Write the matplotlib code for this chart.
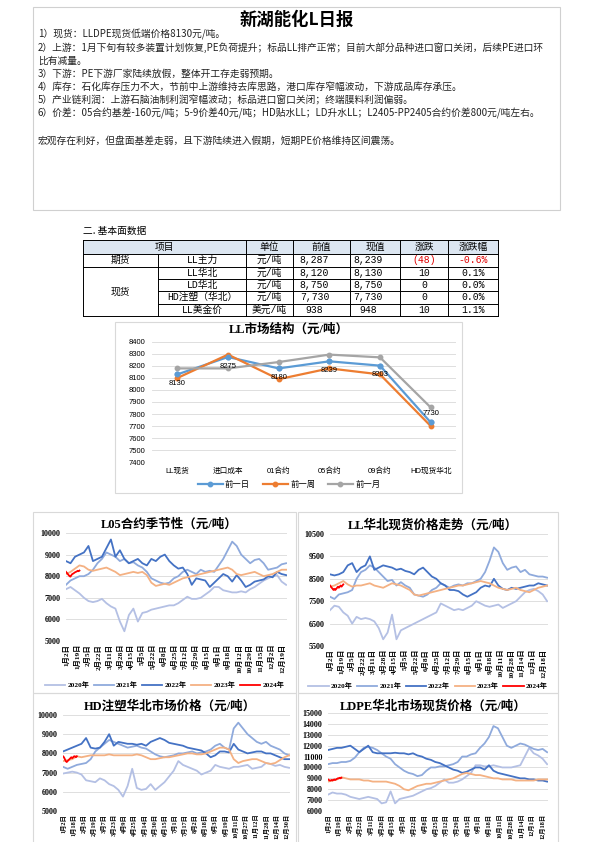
import numpy as np
import matplotlib.pyplot as plt
from matplotlib.patches import Rectangle

plt.rcParams['font.family'] = ['Noto Sans CJK SC', 'DejaVu Sans']
NUM = ['Liberation Serif', 'Noto Sans CJK SC']
SANS = ['Liberation Sans', 'Noto Sans CJK SC']

W, H = 595, 842

# ---------------- text of the report ----------------
report_title = '新湖能化L日报'
notes = [
    '1）现货：LLDPE现货低端价格8130元/吨。',
    '2）上游：1月下旬有较多装置计划恢复,PE负荷提升；标品LL排产正常；目前大部分品种进口窗口关闭，后续PE进口环',
    '比有减量。',
    '3）下游：PE下游厂家陆续放假，整体开工存走弱预期。',
    '4）库存：石化库存压力不大，节前中上游维持去库思路，港口库存窄幅波动，下游成品库存承压。',
    '5）产业链利润：上游石脑油制利润窄幅波动；标品进口窗口关闭；终端膜料利润偏弱。',
    '6）价差：05合约基差-160元/吨；5-9价差40元/吨；HD贴水LL；LD升水LL；L2405-PP2405合约价差800元/吨左右。',
]
macro = '宏观存在利好，但盘面基差走弱，且下游陆续进入假期，短期PE价格维持区间震荡。'
section = '二. 基本面数据'

# ---------------- table ----------------
tbl_header = ['项目', '单位', '前值', '现值', '涨跌', '涨跌幅']
tbl_group = ['期货', '现货']
tbl_items = ['LL主力', 'LL华北', 'LD华北', 'HD注塑（华北）', 'LL美金价']
tbl_units = ['元/吨', '元/吨', '元/吨', '元/吨', '美元/吨']
tbl_prev = ['8,287', '8,120', '8,750', '7,730', '938']
tbl_now = ['8,239', '8,130', '8,750', '7,730', '948']
tbl_chg = ['(48)', '10', '0', '0', '10']
tbl_pct = ['-0.6%', '0.1%', '0.0%', '0.0%', '1.1%']

# ---------------- LL market structure ----------------
mk_cats = ['LL现货', '进口成本', '01合约', '05合约', '09合约', 'HD现货华北']
mk_day = [8130, 8275, 8180, 8239, 8203, 7730]
mk_week = [8100, 8295, 8090, 8180, 8130, 7700]
mk_month = [8180, 8180, 8233, 8295, 8272, 7855]

# ---------------- seasonal charts ----------------
years = ['2020年', '2021年', '2022年', '2023年', '2024年']

dates_a = ['1月2日', '1月19日', '2月5日', '2月22日', '3月11日', '3月28日', '4月15日',
           '5月5日', '5月22日', '6月8日', '6月25日', '7月12日', '7月29日', '8月15日',
           '9月1日', '9月18日', '10月12日', '10月29日', '11月15日', '12月2日', '12月19日']
dates_b = ['1月2日', '1月19日', '2月5日', '2月22日', '3月11日', '3月28日', '4月15日',
           '5月5日', '5月22日', '6月8日', '6月25日', '7月12日', '7月29日', '8月15日',
           '9月1日', '9月18日', '10月11日', '10月28日', '11月14日', '12月1日', '12月18日']
dates_c = ['1月2日', '1月18日', '2月3日', '2月19日', '3月7日', '3月23日', '4月9日',
           '4月25日', '5月14日', '5月30日', '6月15日', '7月1日', '7月17日', '8月2日',
           '8月18日', '9月3日', '9月19日', '10月11日', '10月27日', '11月12日', '11月28日',
           '12月14日', '12月30日']

l05_2020 = [7400, 7500, 7350, 7200, 7000, 6850, 6800, 6850, 6950, 6750, 6600, 6500, 5900,
            5450, 6200, 6500, 5900, 6300, 6350, 6450, 6500, 6550, 6600, 6650, 6650, 6750,
            6900, 7050, 6950, 6950, 7000, 7150, 7300, 7500, 7500, 7350, 7300, 7250, 7250,
            7300, 7250, 7400, 7500, 7650, 7800, 7900, 8000, 8050, 7750, 7600]
l05_2021 = [7600, 7800, 7900, 8000, 8000, 8100, 8300, 8600, 8800, 9100, 9000, 8900, 8700,
            8800, 8600, 8650, 8500, 8400, 8200, 7900, 7800, 7700, 7650, 7700, 7900, 8000,
            8200, 8300, 8200, 8100, 8300, 8200, 8250, 8200, 8500, 8800, 9200, 9600, 9400,
            9000, 8800, 8600, 8750, 8800, 8600, 8300, 8350, 8400, 8550, 8600]
l05_2022 = [8700, 8600, 8900, 9000, 9100, 9400, 8700, 8800, 8900, 9300, 9700, 8900, 9200,
            8800, 8600, 8700, 8800, 8600, 8500, 8800, 8700, 8900, 9000, 8700, 8500, 8350,
            8400, 8100, 7600, 7900, 7850, 7800, 7500, 7700, 7900, 8100, 8000, 7750, 8050,
            7800, 7500, 7600, 7750, 7800, 7850, 8000, 7950, 8200, 8100, 8050]
l05_2023 = [8100, 8200, 8350, 8500, 8450, 8300, 8250, 8300, 8350, 8400, 8300, 8200, 8050,
            8100, 8150, 8200, 8150, 8200, 8050, 7700, 7550, 7600, 7650, 7600, 7700, 7800,
            7900, 7950, 8000, 8050, 8100, 8150, 8200, 8250, 8300, 8350, 8400, 8300, 8100,
            8050, 8100, 8150, 8200, 8100, 8000, 8050, 8100, 8200, 8300, 8300]
l05_2024 = [8200, 8150, 8100, 8050, 8000, 7980, 8050, 8100, 8120, 8150, 8180, 8200, 8220,
            8250, 8230, 8260]

llhb_2020 = [7100, 7300, 7250, 7000, 6850, 6500, 6800, 6700, 6750, 6700, 6600, 6300, 5800,
             6100, 6900, 5800, 6200, 6300, 6400, 6500, 6600, 6700, 6800, 6900, 7000, 7400,
             7300, 7200, 7100, 7150, 7100, 7200, 7300, 7500, 7400, 7300, 7250, 7300, 7350,
             7200, 7300, 7400, 7500, 7700, 7900, 8000, 8050, 7950, 7800, 7500]
llhb_2021 = [7700, 7600, 7800, 7850, 7900, 8000, 8500, 8800, 8900, 9100, 9000, 8800, 8600,
             8400, 8450, 8200, 8350, 8200, 8100, 7800, 7750, 7700, 7800, 8000, 8100, 8300,
             8200, 8100, 8200, 8250, 8200, 8300, 8300, 8400, 8500, 8800, 9300, 9900, 9700,
             9200, 8900, 9000, 9050, 8800, 8900, 8700, 8650, 8600, 8600, 8550]
llhb_2022 = [8700, 8650, 8700, 8800, 9100, 9200, 8800, 9000, 9100, 9500, 8900, 9000, 9100,
             9050, 9000, 8900, 8950, 8850, 8800, 8700, 8900, 9000, 8800, 8600, 8500, 8300,
             8200, 8000, 8000, 7950, 7800, 7700, 7800, 7900, 8100, 8200, 8150, 8500, 8200,
             8050, 8000, 8100, 8050, 8100, 8150, 8200, 8200, 8300, 8250, 8200]
llhb_2023 = [8150, 8200, 8300, 8400, 8250, 8150, 8200, 8200, 8250, 8300, 8200, 8150, 8100,
             8200, 8300, 8250, 8200, 8100, 8000, 7800, 7750, 7800, 7850, 7900, 7950, 8000,
             8050, 8100, 8150, 8200, 8200, 8250, 8300, 8350, 8400, 8350, 8300, 8200, 8100,
             8050, 8000, 8050, 8100, 8000, 7950, 7900, 8000, 8100, 8150, 8200]
llhb_2024 = [8200, 8150, 8100, 8050, 8000, 8050, 8000, 8050, 8100, 8150, 8100, 8150, 8200,
             8150, 8200, 8250]

hd_2020 = [6950, 7000, 7050, 7000, 6900, 6600, 6550, 6500, 6700, 6600, 6400, 6300, 6100,
           5750, 6300, 7200, 6200, 6100, 6150, 6400, 6100, 6300, 6500, 6800, 7100, 7600,
           7400, 7300, 7200, 7100, 6900, 7000, 7100, 7400, 7300, 7250, 7200, 7300, 7300,
           7350, 7400, 7200, 7250, 7300, 7500, 7450, 7350, 7400, 7300, 7250]
hd_2021 = [7300, 7200, 7300, 7400, 7450, 7500, 7700, 8100, 8300, 8500, 8700, 8600, 8500,
           8400, 8300, 8350, 8400, 8300, 8250, 8100, 7950, 7850, 7800, 7850, 7900, 8000,
           8000, 8050, 8100, 8000, 8050, 8100, 8200, 8400, 8500, 8300, 8200, 9300, 9600,
           9300, 9000, 8800, 8600, 8500, 8600, 8400, 8300, 8200, 8000, 7900]
hd_2022 = [8100, 8200, 8300, 8400, 8500, 8800, 8300, 8250, 8300, 8600, 9000, 8400, 8600,
           8550, 8500, 8500, 8450, 8500, 8400, 8600, 8700, 8800, 8700, 8550, 8500, 8450,
           8400, 8300, 8250, 8200, 8150, 8000, 7800, 7900, 8100, 8100, 8050, 8500, 8200,
           8100, 8000, 8050, 8100, 8100, 8000, 8000, 7900, 7800, 7700, 7700]
hd_2023 = [7600, 7650, 7700, 7850, 7800, 7850, 7900, 7900, 7900, 7900, 7950, 7900, 7900,
           7900, 7900, 7900, 7950, 7900, 7800, 7700, 7700, 7750, 7800, 7800, 7850, 7900,
           7950, 8000, 8000, 7950, 7950, 8000, 8100, 8200, 8300, 8300, 8200, 7700, 7500,
           7600, 7650, 7700, 7700, 7600, 7500, 7450, 7500, 7650, 7800, 7900]
hd_2024 = [7850, 7800, 7700, 7600, 7550, 7600, 7650, 7700, 7750, 7800, 7750, 7800, 7850,
           7850, 7800, 7850]

ld_2020 = [7500, 7700, 7600, 7600, 7500, 7300, 7200, 7100, 7200, 7300, 7200, 7100, 6700,
           6800, 7800, 6700, 7100, 7200, 7300, 7400, 7600, 7800, 8000, 8100, 8300, 8600,
           8900, 8600, 8600, 8700, 8900, 9200, 9500, 10200, 10200, 10100, 10100, 10200,
           10100, 10000, 10000, 10000, 10100, 10200, 11000, 11800, 11300, 11100, 10800, 10300]
ld_2021 = [10300, 10400, 10400, 10500, 10500, 10600, 10900, 11400, 11800, 11900, 11800,
           11600, 11300, 11000, 10800, 10300, 10000, 9700, 9500, 9400, 9200, 9300, 9700,
           10000, 10000, 10100, 10100, 10200, 10300, 10500, 11000, 11000, 11200, 11300,
           11800, 12200, 12800, 13800, 13600, 12800, 12000, 11800, 12000, 12200, 12100,
           11900, 11700, 11600, 11700, 11400]
ld_2022 = [11600, 11700, 11800, 11800, 11900, 12000, 11700, 11400, 11700, 12000, 11400,
           11300, 11300, 11300, 11300, 11350, 11300, 11300, 11200, 11300, 11100, 11000,
           10800, 10700, 10500, 10400, 10200, 10000, 9800, 9700, 9500, 9600, 9800, 10000,
           10000, 9800, 10200, 9700, 9500, 9400, 9300, 9200, 9100, 9000, 9000, 8900, 8900,
           8800, 8800, 8700]
ld_2023 = [8700, 8800, 8900, 9100, 9000, 8900, 8900, 8900, 8800, 8800, 8700, 8700, 8700,
           8700, 8600, 8500, 8300, 8000, 7900, 8100, 8300, 8400, 8500, 8500, 8600, 8700,
           8800, 8900, 9000, 9200, 9400, 9500, 9400, 9300, 9300, 9200, 9100, 9000, 9000,
           8900, 8900, 8900, 8800, 8800, 8800, 8800, 8800, 8900, 8900, 8900]
ld_2024 = [8900, 8850, 8800, 8800, 8850, 8800, 8850, 8900, 8850, 8900, 8950, 9000, 9000,
           9050, 9000, 9050]

YCOL = ['#b4c0e4', '#8faadc', '#4472c4', '#f4b183', '#ff0000']
GRID = '#d9d9d9'


def rect(x0, y0, x1, y1):
    return [x0 / W, 1 - y1 / H, (x1 - x0) / W, (y1 - y0) / H]


fig = plt.figure(figsize=(W / 100, H / 100), dpi=100)
page = fig.add_axes([0, 0, 1, 1])
page.set_xlim(0, W)
page.set_ylim(H, 0)
page.axis('off')

# ---------------- top text box ----------------
page.add_patch(Rectangle((33, 7), 527, 203, fill=False, ec='#d0d0d0', lw=0.8))
page.text(297, 20, report_title, fontsize=12.5, fontweight='bold', ha='center', va='center')
for i, s in enumerate(notes):
    page.text(38, 34 + i * 13.2, s, fontsize=7, va='center', color='#222222',
              family=['Noto Sans CJK SC', 'DejaVu Sans'])
page.text(38, 141, macro, fontsize=7, va='center', color='#222222')

# ---------------- table ----------------
page.text(83, 231, section, fontsize=7, va='center')
cx = [83, 158, 246, 293, 350, 400, 448, 498]
ry = [240, 254, 266.5, 279, 291, 303.5, 316]
page.add_patch(Rectangle((cx[0], ry[0]), cx[-1] - cx[0], ry[1] - ry[0], fc='#dce6f1', ec='none'))
lk = dict(color='black', lw=0.7)
page.plot([cx[0], cx[-1]], [ry[0], ry[0]], **lk)
page.plot([cx[0], cx[-1]], [ry[1], ry[1]], **lk)
page.plot([cx[0], cx[-1]], [ry[2], ry[2]], **lk)
page.plot([cx[0], cx[-1]], [ry[-1], ry[-1]], **lk)
for y in ry[3:-1]:
    page.plot([cx[1], cx[-1]], [y, y], **lk)
for x in [cx[0]] + cx[2:]:
    page.plot([x, x], [ry[0], ry[-1]], **lk)
page.plot([cx[1], cx[1]], [ry[1], ry[-1]], **lk)

tk = dict(fontsize=7, ha='center', va='center', family=['Liberation Mono', 'Noto Sans CJK SC'])
page.text((cx[0] + cx[2]) / 2, (ry[0] + ry[1]) / 2, tbl_header[0], **tk)
for j, h in enumerate(tbl_header[1:]):
    page.text((cx[j + 2] + cx[j + 3]) / 2, (ry[0] + ry[1]) / 2, h, **tk)
page.text((cx[0] + cx[1]) / 2, (ry[1] + ry[2]) / 2, tbl_group[0], **tk)
page.text((cx[0] + cx[1]) / 2, (ry[2] + ry[-1]) / 2, tbl_group[1], **tk)
for i in range(len(tbl_items)):
    yc = (ry[i + 1] + ry[i + 2]) / 2
    red = tbl_chg[i].startswith('(')
    row = [tbl_items[i], tbl_units[i], tbl_prev[i], tbl_now[i], tbl_chg[i], tbl_pct[i]]
    for j, s in enumerate(row):
        c = '#e00000' if red and j >= 4 else 'black'
        xc = (cx[j + 1] + cx[j + 2]) / 2
        if j in (2, 3):
            xc -= 7
        page.text(xc, yc, s, color=c, **tk)

# ---------------- LL market structure chart ----------------
page.add_patch(Rectangle((115, 322), 347, 171, fill=False, ec='#d9d9d9', lw=0.8))
page.text(289, 330, 'LL市场结构（元/吨）', fontsize=9, fontweight='bold', ha='center',
          va='center', family=NUM)
ax = fig.add_axes(rect(152, 342, 456, 462))
xs = np.arange(len(mk_cats))
ax.plot(xs, mk_day, color='#5b9bd5', lw=1.6, marker='o', ms=3.2, label='前一日')
ax.plot(xs, mk_week, color='#ed7d31', lw=1.6, marker='o', ms=3.2, label='前一周')
ax.plot(xs, mk_month, color='#a5a5a5', lw=1.6, marker='o', ms=3.2, label='前一月')
ax.plot(xs, mk_day, color='#5b9bd5', lw=0, marker='o', ms=3.2)
lab_dy = [-4, -4, -4, -4, -4, 4]
for x, v, dy in zip(xs, mk_day, lab_dy):
    ax.annotate(str(v), (x, v), xytext=(0, dy), textcoords='offset points', ha='center',
                va='top' if dy < 0 else 'bottom', fontsize=5.5, family=SANS)
ax.set_xlim(-0.5, 5.5)
ax.set_ylim(7400, 8400)
ax.set_yticks(np.arange(7400, 8401, 100))
ax.set_xticks(xs)
ax.set_xticklabels(mk_cats, fontsize=5.5, family=SANS)
ax.tick_params(axis='y', labelsize=5.5, length=0, pad=5)
ax.tick_params(axis='x', length=0, pad=4)
for lab in ax.get_yticklabels():
    lab.set_family(SANS)
ax.grid(axis='y', color=GRID, lw=0.6)
ax.set_axisbelow(True)
for sp in ax.spines.values():
    sp.set_visible(False)
ax.legend(loc='center', bbox_to_anchor=(289 / W, 1 - 484 / H), bbox_transform=fig.transFigure,
          ncol=3, frameon=False, fontsize=6, handlelength=3, columnspacing=1.5,
          handletextpad=0.3)


# ---------------- seasonal charts ----------------
def season(box, plot, title, ylim, ystep, labels, tickstep, series, legend_y=None, dsize=5.2):
    x0, y0, x1, y1 = box
    page.add_patch(Rectangle((x0, y0), x1 - x0, y1 - y0, fill=False, ec='#d9d9d9', lw=0.8))
    page.text((x0 + x1) / 2 + 5, y0 + 13, title, fontsize=9, fontweight='bold', ha='center',
              va='center', family=NUM)
    a = fig.add_axes(rect(*plot))
    for yr, vals, c in zip(years, series, YCOL):
        step = 1 if yr == '2024年' else 5
        a.plot(np.arange(len(vals)) * step, vals, color=c, lw=1.3, label=yr)
    a.set_xlim(0, 246)
    a.set_ylim(*ylim)
    a.set_yticks(np.arange(ylim[0], ylim[1] + 1, ystep))
    a.set_xticks(np.arange(len(labels)) * tickstep)
    a.set_xticklabels(labels, rotation=90, fontsize=dsize, family=NUM, fontweight='bold')
    for lab in a.get_yticklabels():
        lab.set_family(NUM)
        lab.set_fontweight('bold')
    a.tick_params(axis='y', labelsize=5.8, length=0, pad=4)
    a.tick_params(axis='x', length=0, pad=2)
    a.grid(axis='y', color=GRID, lw=0.6)
    a.set_axisbelow(True)
    for sp in a.spines.values():
        sp.set_visible(False)
    if legend_y is not None:
        a.legend(loc='center', bbox_to_anchor=((x0 + x1) / 2 / W, 1 - legend_y / H),
                 bbox_transform=fig.transFigure, ncol=5, frameon=False,
                 prop=dict(family=NUM, weight='bold', size=5.2), handlelength=2.8,
                 columnspacing=0.6, handletextpad=0.3)
    return a


season((33, 512, 296, 693), (66, 533, 287, 641), 'L05合约季节性（元/吨）', (5000, 10000), 1000,
       dates_a, 12, [l05_2020, l05_2021, l05_2022, l05_2023, l05_2024], legend_y=685)
season((298, 512, 558, 693), (330, 534, 548, 646), 'LL华北现货价格走势（元/吨）', (5500, 10500), 1000,
       dates_b, 12, [llhb_2020, llhb_2021, llhb_2022, llhb_2023, llhb_2024], legend_y=686)
season((33, 693, 296, 860), (63, 715, 290, 811), 'HD注塑华北市场价格（元/吨）', (5000, 10000), 1000,
       dates_c, 11, [hd_2020, hd_2021, hd_2022, hd_2023, hd_2024], dsize=4.5)
season((298, 693, 558, 860), (328, 713, 548, 811), 'LDPE华北市场现货价格（元/吨）', (6000, 15000), 1000,
       dates_b, 12, [ld_2020, ld_2021, ld_2022, ld_2023, ld_2024], dsize=4.5)

fig.savefig('out.png', dpi=100, facecolor='white')
